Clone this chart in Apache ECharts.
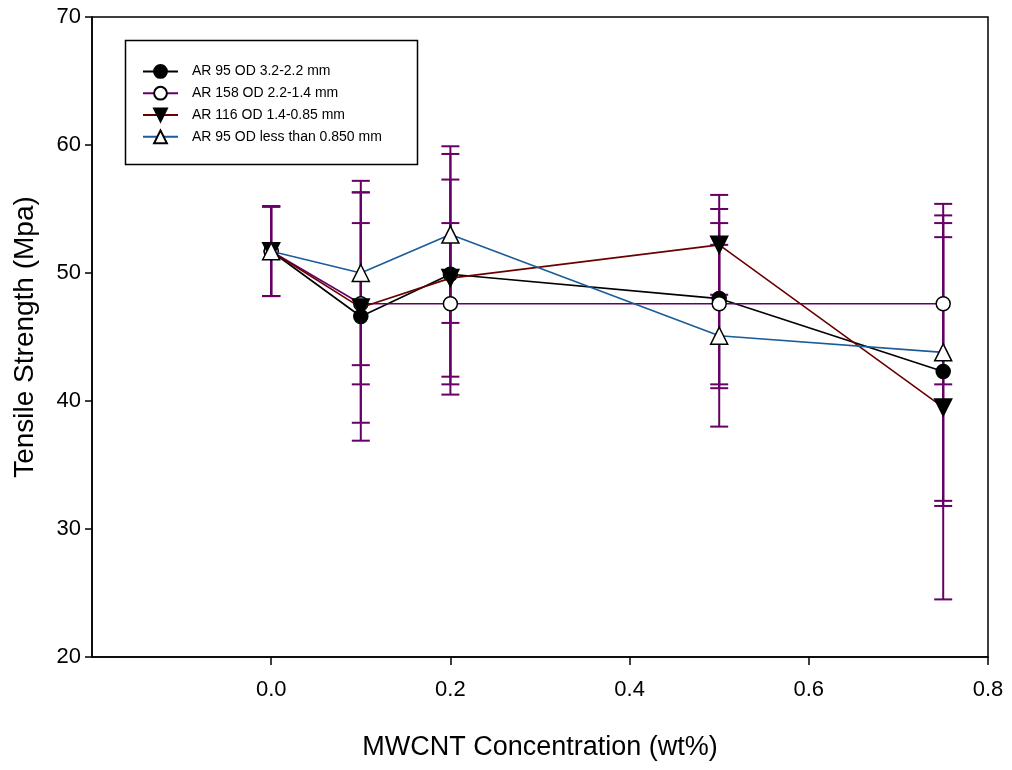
<!DOCTYPE html>
<html>
<head>
<meta charset="utf-8">
<script src="https://cdn.jsdelivr.net/npm/echarts@6/dist/echarts.min.js"></script>
<style>
html,body{margin:0;padding:0;background:#fff;}
#chart{width:1012px;height:770px;}
</style>
</head>
<body>
<div id="chart"></div>
<script>
// ---- data ----
const xValues = [0, 0.1, 0.2, 0.5, 0.75];
const seriesNames = [
  'AR 95 OD 3.2-2.2 mm',
  'AR 158 OD 2.2-1.4 mm',
  'AR 116 OD 1.4-0.85 mm',
  'AR 95 OD less than 0.850 mm'
];
const s1Values = [51.7, 46.6, 49.9, 48.0, 42.3];
const s1Errors = [3.5, 9.7, 9.4, 7.0, 10.5];
const s2Values = [51.7, 47.6, 47.6, 47.6, 47.6];
const s2Errors = [3.5, 6.3, 6.3, 6.3, 6.3];
const s3Values = [51.7, 47.3, 49.6, 52.2, 39.5];
const s3Errors = [3.5, 9.0, 7.7, 3.9, 15.0];
const s4Values = [51.7, 50.0, 53.0, 45.1, 43.8];
const s4Errors = [3.5, 7.2, 6.9, 7.1, 11.6];
const xTickValues = [0, 0.2, 0.4, 0.6, 0.8];
const yTickValues = [20, 30, 40, 50, 60, 70];
const xTitle = 'MWCNT Concentration (wt%)';
const yTitle = 'Tensile Strength (Mpa)';

// ---- styles ----
const FONT = 'Liberation Sans, Arial, sans-serif';
const ERR_COLOR = '#660066';
const lineColors = ['#000000', '#660066', '#6b0000', '#1b5c99'];
const symbols = [
  {symbol: 'circle', size: 14, fill: '#000000', rotate: 0},
  {symbol: 'circle', size: 14, fill: '#ffffff', rotate: 0},
  {symbol: 'triangle', size: 17, fill: '#000000', rotate: 180},
  {symbol: 'triangle', size: 17, fill: '#ffffff', rotate: 0}
];
const allValues = [s1Values, s2Values, s3Values, s4Values];
const allErrors = [s1Errors, s2Errors, s3Errors, s4Errors];

function errSeries(vals, errs) {
  return {
    type: 'custom',
    z: 2,
    silent: true,
    data: xValues.map((x, i) => [x, vals[i], errs[i]]),
    encode: {x: 0, y: 1},
    renderItem: function (params, api) {
      const x = api.value(0), y = api.value(1), e = api.value(2);
      const top = api.coord([x, y + e]);
      const bot = api.coord([x, y - e]);
      const hw = 9;
      const st = {stroke: ERR_COLOR, lineWidth: 2};
      return {
        type: 'group',
        children: [
          {type: 'line', shape: {x1: top[0], y1: top[1], x2: bot[0], y2: bot[1]}, style: st},
          {type: 'line', shape: {x1: top[0] - hw, y1: top[1], x2: top[0] + hw, y2: top[1]}, style: st},
          {type: 'line', shape: {x1: bot[0] - hw, y1: bot[1], x2: bot[0] + hw, y2: bot[1]}, style: st}
        ]
      };
    }
  };
}

const series = [];
for (let k = 0; k < 4; k++) series.push(errSeries(allValues[k], allErrors[k]));
for (let k = 0; k < 4; k++) {
  series.push({
    name: seriesNames[k],
    type: 'line',
    z: 3 + k,
    data: xValues.map((x, i) => [x, allValues[k][i]]),
    symbol: symbols[k].symbol,
    symbolSize: symbols[k].size,
    symbolRotate: symbols[k].rotate,
    showAllSymbol: true,
    lineStyle: {color: lineColors[k], width: 1.6},
    itemStyle: {color: symbols[k].fill, borderColor: '#000000', borderWidth: 1.5},
    emphasis: {disabled: true},
    animation: false
  });
}

const chart = echarts.init(document.getElementById('chart'));
chart.setOption({
  animation: false,
  backgroundColor: '#ffffff',
  grid: {left: 92, right: 24, top: 17, bottom: 113, show: true, borderColor: '#000', borderWidth: 1.5, backgroundColor: 'transparent'},
  xAxis: {
    type: 'value', min: -0.2, max: 0.8, interval: 0.2,
    axisLine: {show: true, onZero: false, lineStyle: {color: '#000', width: 1.5}},
    axisTick: {show: true, inside: false, length: 8, lineStyle: {color: '#000', width: 1.5}, customValues: xTickValues},
    axisLabel: {margin: 22, color: '#000', fontSize: 22, fontFamily: FONT, customValues: xTickValues,
      formatter: v => Number(v).toFixed(1)},
    splitLine: {show: false}
  },
  yAxis: {
    type: 'value', min: 20, max: 70, interval: 10,
    axisLine: {show: true, onZero: false, lineStyle: {color: '#000', width: 1.5}},
    axisTick: {show: true, inside: false, length: 7, lineStyle: {color: '#000', width: 1.5}, customValues: yTickValues},
    axisLabel: {margin: 11, color: '#000', fontSize: 22, fontFamily: FONT, customValues: yTickValues,
      formatter: v => String(v)},
    splitLine: {show: false}
  },
  legend: {
    data: seriesNames,
    orient: 'vertical',
    left: 142, top: 64,
    itemWidth: 35, itemHeight: 16, itemGap: 7,
    padding: 0,
    textStyle: {fontSize: 14, fontFamily: FONT, color: '#000', padding: [0, 0, 0, 9]},
    selectedMode: false
  },
  graphic: [
    {type: 'rect', left: 123, top: 38, z: 100, silent: true,
      shape: {width: 292, height: 124}, style: {fill: 'none', stroke: '#000', lineWidth: 1.5}},
    {type: 'text', x: 540, y: 748, z: 100, silent: true,
      style: {text: xTitle, fontSize: 27, fontFamily: FONT, fill: '#000', textAlign: 'center', textVerticalAlign: 'middle'}},
    {type: 'text', x: 25, y: 337, rotation: Math.PI / 2, z: 100, silent: true,
      style: {text: yTitle, fontSize: 28, fontFamily: FONT, fill: '#000', textAlign: 'center', textVerticalAlign: 'middle'}}
  ],
  series: series
});
</script>
</body>
</html>
